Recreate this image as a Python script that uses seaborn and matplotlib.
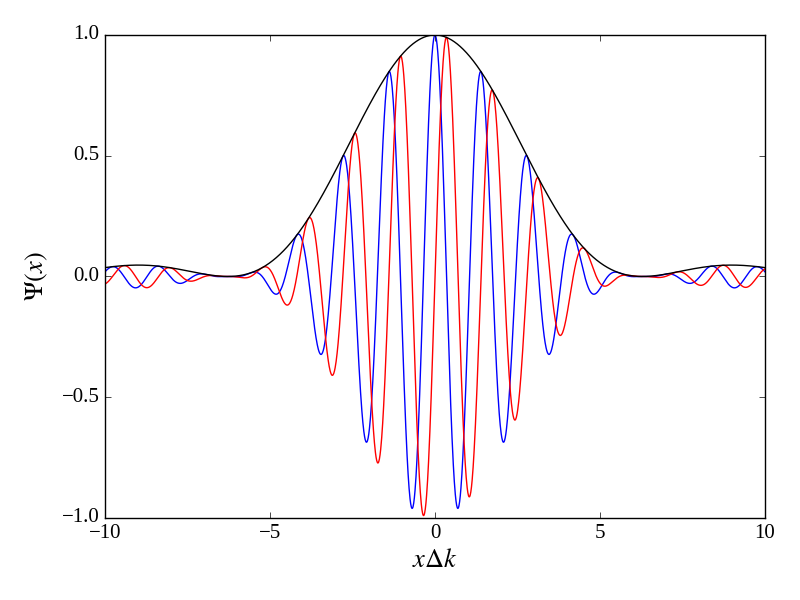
import numpy as np
import pandas as pd
import seaborn as sns
import matplotlib.pyplot as plt

# Wave packet parameters
X_LIMITS = [-10, 10]
K0_OVER_DK = [4.5]          # carrier wavenumber (in units of delta k)
N_SAMPLES = [2000]
X_TICKS = [-10, -5, 0, 5, 10]
Y_TICKS = [-1.0, -0.5, 0.0, 0.5, 1.0]
CURVE_NAMES = ['envelope', 'real', 'imag']
CURVE_COLORS = ['k', 'b', 'r']

# =============================================================================
# Curves
# =============================================================================
x = np.linspace(X_LIMITS[0], X_LIMITS[1], N_SAMPLES[0])
env = np.sinc(x / (2 * np.pi)) ** 2   # (sin(x/2)/(x/2))^2
k0 = K0_OVER_DK[0]
df = pd.DataFrame({
    'x': np.tile(x, 3),
    'psi': np.concatenate([env, env * np.cos(k0 * x), env * np.sin(k0 * x)]),
    'curve': np.repeat(CURVE_NAMES, len(x)),
})

# =============================================================================
# Plot
# =============================================================================
plt.style.use('classic')
plt.rcParams['font.family'] = ['Liberation Serif', 'DejaVu Serif']
plt.rcParams['mathtext.fontset'] = 'stix'
plt.rcParams['font.size'] = 15

fig, ax = plt.subplots(figsize=(8, 6), dpi=100)
fig.patch.set_facecolor('white')
fig.subplots_adjust(left=0.13125, right=0.95625, top=0.9417, bottom=0.1367)

sns.lineplot(data=df, x='x', y='psi', hue='curve', hue_order=['real', 'imag', 'envelope'],
             palette=dict(zip(CURVE_NAMES, CURVE_COLORS)), linewidth=1.0,
             legend=False, ax=ax, estimator=None, sort=False)

ax.set_xlim(X_LIMITS)
ax.set_ylim(-1, 1)
ax.set_xticks(X_TICKS)
ax.set_yticks(Y_TICKS)
ax.set_xlabel(r'$x\Delta k$', fontsize=19, labelpad=5)
ax.set_ylabel(r'$\Psi(x)$', fontsize=19, labelpad=8)
ax.tick_params(direction='in', top=True, right=True, labelsize=15)

plt.savefig('out.png', dpi=100)
